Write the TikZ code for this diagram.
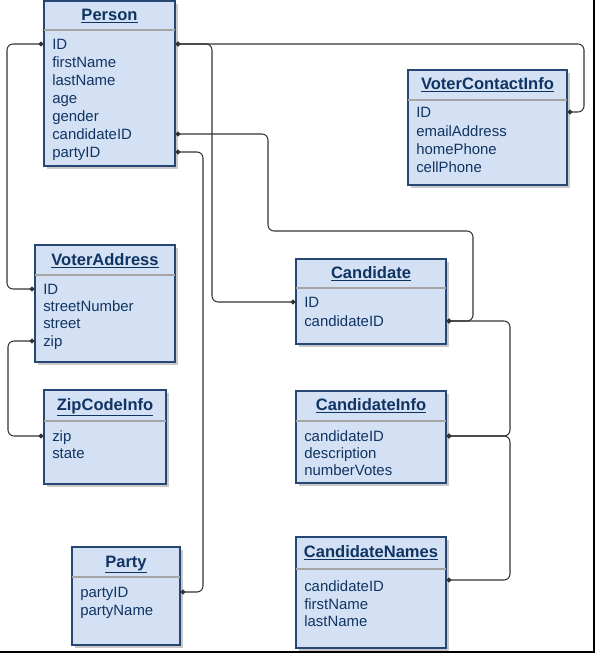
\documentclass[tikz,border=0pt]{standalone}
\usepackage{fontspec}
\setmainfont{Liberation Sans}
\usetikzlibrary{fit,shadows,arrows.meta}
\definecolor{erfill}{RGB}{212,225,245}
\definecolor{erline}{RGB}{38,70,115}
\definecolor{ertext}{RGB}{16,52,98}
\definecolor{ersep}{RGB}{165,165,165}

\begin{document}
\begin{tikzpicture}[x=0.75pt,y=-0.75pt,
  entity/.style={draw=erline,fill=erfill,line width=0.8pt,inner sep=0pt,
    drop shadow={shadow xshift=2.2pt,shadow yshift=-2.2pt,fill=black!30,opacity=0.7}},
  etitle/.style={text=ertext,font=\bfseries\fontsize{12.4}{14}\selectfont,inner sep=0pt,
    text height=9pt,text depth=3pt},
  field/.style={text=ertext,font=\fontsize{11.2}{13}\selectfont,anchor=west,inner sep=0pt,
    text height=8pt,text depth=0pt},
  sep/.style={draw=ersep,line width=0.8pt},
  link/.style={draw=black!80,line width=0.8pt,rounded corners=4.5pt,
    arrows={Circle[length=3.6pt]-Circle[length=3.6pt]}}]
  \useasboundingbox (0,0) rectangle (595,653);
  % frame
  \draw[line width=1.2pt] (594,0) -- (594,652) -- (0,652);

  % Person
  \node[entity,fit={(44,1) (175,166)}] (person) {};
  \node[etitle] (person-t) at (109.5,16) {\underline{Person}};
  \draw[sep] (44,30) -- (175,30);
  \node[field] (person-id) at (52,44) {ID};
  \node[field] (person-fn) at (52,62) {firstName};
  \node[field] (person-ln) at (52,80) {lastName};
  \node[field] (person-age) at (52,98) {age};
  \node[field] (person-g) at (52,116) {gender};
  \node[field] (person-cid) at (52,134) {candidateID};
  \node[field] (person-pid) at (52,152) {partyID};

  % VoterContactInfo
  \node[entity,fit={(408,70) (567,185)}] (vci) {};
  \node[etitle] (vci-t) at (487.5,85) {\underline{VoterContactInfo}};
  \draw[sep] (408,100) -- (567,100);
  \node[field] (vci-id) at (416,112) {ID};
  \node[field] (vci-em) at (416,131) {emailAddress};
  \node[field] (vci-hp) at (416,149) {homePhone};
  \node[field] (vci-cp) at (416,167) {cellPhone};

  % VoterAddress
  \node[entity,fit={(35,245) (175,362)}] (vaddr) {};
  \node[etitle] (vaddr-t) at (105,261) {\underline{VoterAddress}};
  \draw[sep] (35,275) -- (175,275);
  \node[field] (vaddr-id) at (43,289) {ID};
  \node[field] (vaddr-sn) at (43,306) {streetNumber};
  \node[field] (vaddr-st) at (43,323) {street};
  \node[field] (vaddr-zip) at (43,341) {zip};

  % ZipCodeInfo
  \node[entity,fit={(44,390) (166,484)}] (zip) {};
  \node[etitle] (zip-t) at (105,406) {\underline{ZipCodeInfo}};
  \draw[sep] (44,421) -- (166,421);
  \node[field] (zip-zip) at (52,436) {zip};
  \node[field] (zip-st) at (52,453) {state};

  % Party
  \node[entity,fit={(72,547) (180,645)}] (party) {};
  \node[etitle] (party-t) at (126,563) {\underline{Party}};
  \draw[sep] (72,577) -- (180,577);
  \node[field] (party-pid) at (80,592) {partyID};
  \node[field] (party-pn) at (80,610) {partyName};

  % Candidate
  \node[entity,fit={(296,259) (446,344)}] (cand) {};
  \node[etitle] (cand-t) at (371,274) {\underline{Candidate}};
  \draw[sep] (296,288) -- (446,288);
  \node[field] (cand-id) at (304,302) {ID};
  \node[field] (cand-cid) at (304,321) {candidateID};

  % CandidateInfo
  \node[entity,fit={(296,391) (446,483)}] (cinfo) {};
  \node[etitle] (cinfo-t) at (371,406) {\underline{CandidateInfo}};
  \draw[sep] (296,421) -- (446,421);
  \node[field] (cinfo-cid) at (304,436) {candidateID};
  \node[field] (cinfo-d) at (304,453) {description};
  \node[field] (cinfo-nv) at (304,470) {numberVotes};

  % CandidateNames
  \node[entity,fit={(296,537) (446,648)}] (cnames) {};
  \node[etitle] (cnames-t) at (371,553) {\underline{CandidateNames}};
  \draw[sep] (296,569) -- (446,569);
  \node[field] (cnames-cid) at (304,586) {candidateID};
  \node[field] (cnames-fn) at (304,604) {firstName};
  \node[field] (cnames-ln) at (304,621) {lastName};

  % links
  \draw[link] (person.west |- person-id) -| (7,200) |- (vaddr.west |- vaddr-id);
  \draw[link] (person.east |- person-id) -| (584,80) |- (vci.east |- vci-id);
  \draw[link] (person.east |- person-id) -| (212,200) |- (cand.west |- cand-id);
  \draw[link] (person.east |- person-cid) -| (268,180) |- (473,231) |- (cand.east |- cand-cid);
  \draw[link] (person.east |- person-pid) -| (203,400) |- (party.east |- party-pid);
  \draw[link] (vaddr.west |- vaddr-zip) -| (8,390) |- (zip.west |- zip-zip);
  \draw[link] (cinfo.east |- cinfo-cid) -| (510,380) |- (cand.east |- cand-cid);
  \draw[link] (cinfo.east |- cinfo-cid) -| (510,500) |- ([yshift=4.5pt]cnames.east |- cnames-cid);
\end{tikzpicture}
\end{document}
